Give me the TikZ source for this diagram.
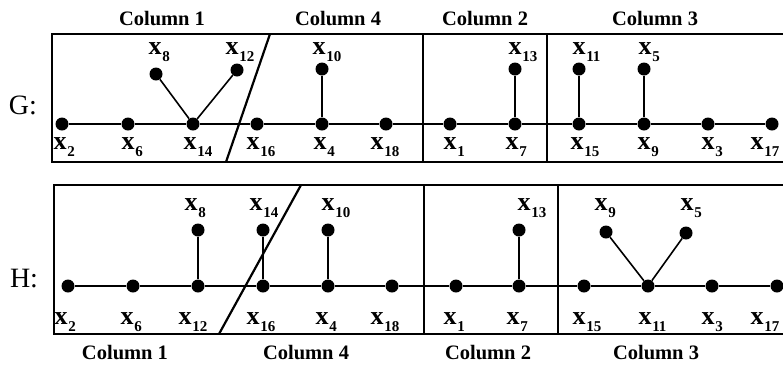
\documentclass[tikz,border=0pt]{standalone}
\usepackage{fontspec}
\setmainfont{Liberation Serif}
\newcommand\xs[1]{x\rlap{\hspace{0.8pt}\smash{\raisebox{-7pt}{\fontsize{15}{15}\selectfont #1}}}}
\begin{document}
\begin{tikzpicture}[x=1pt,y=-1pt,
  dot/.style={circle,fill=black,inner sep=0pt,minimum size=13pt},
  edge/.style={line width=1.6pt},
  frame/.style={line width=2.6pt},
  divider/.style={line width=2.2pt},
  lab/.style={inner sep=0pt,font=\bfseries\fontsize{26}{26}\selectfont},
  col/.style={inner sep=0pt,font=\bfseries\fontsize{20.5}{20.5}\selectfont},
  gname/.style={inner sep=0pt,font=\fontsize{28}{28}\selectfont}]
\useasboundingbox (0,0) rectangle (783,365);
\clip (0,0) rectangle (783,365);
% ---------- G ----------
\draw[frame] (800,34) -- (52,34) -- (52,162) -- (800,162);
\draw[divider] (270,34) -- (226,162);
\draw[divider] (423,34) -- (423,162);
\draw[divider] (547,34) -- (547,162);
\node[gname] (gG) at (23,105) {G:};
\node[col] (gc1) at (162,19) {Column 1};
\node[col] (gc4) at (338,19) {Column 4};
\node[col] (gc2) at (485,19) {Column 2};
\node[col] (gc3) at (655,19) {Column 3};
\foreach \n/\x in {2/62,6/128,14/193,16/257,4/322,18/386,1/450,7/515,15/579,9/644,3/708,17/772}
  \node[dot] (g\n) at (\x,124) {};
\node[dot] (g8) at (156,74) {};
\node[dot] (g12) at (237,70) {};
\node[dot] (g10) at (322,69) {};
\node[dot] (g13) at (515,69) {};
\node[dot] (g11) at (579,69) {};
\node[dot] (g5) at (644,69) {};
\draw[edge] (g2) -- (g6) -- (g14) -- (g16) -- (g4) -- (g18) -- (g1) -- (g7) -- (g15) -- (g9) -- (g3) -- (g17);
\draw[edge] (g8) -- (g14) -- (g12);
\draw[edge] (g10) -- (g4);
\draw[edge] (g13) -- (g7);
\draw[edge] (g11) -- (g15);
\draw[edge] (g5) -- (g9);
\foreach \n/\x in {2/60,6/128,14/190,16/253,4/320,18/377,1/450,7/512,15/577,9/644,3/708,17/757}
  \node[lab] (gl\n) at (\x,144) {\xs{\n}};
\foreach \n/\x in {8/155,12/232,10/319,13/515,11/579,5/645}
  \node[lab] (gl\n) at (\x,49) {\xs{\n}};
% ---------- H ----------
\draw[frame] (800,185) -- (54,185) -- (54,334) -- (800,334);
\draw[divider] (301,185) -- (219,334);
\draw[divider] (424,185) -- (424,334);
\draw[divider] (558,185) -- (558,334);
\node[gname] (hH) at (24,279) {H:};
\node[col] (hc1) at (125,353) {Column 1};
\node[col] (hc4) at (306,353) {Column 4};
\node[col] (hc2) at (488,353) {Column 2};
\node[col] (hc3) at (656,353) {Column 3};
\foreach \n/\x in {2/68,6/133,12/198,16/263,4/328,18/392,1/456,7/519,15/584,11/648,3/712,17/777}
  \node[dot] (h\n) at (\x,286) {};
\node[dot] (h8) at (198,230) {};
\node[dot] (h14) at (263,230) {};
\node[dot] (h10) at (328,230) {};
\node[dot] (h13) at (519,230) {};
\node[dot] (h9) at (606,232) {};
\node[dot] (h5) at (686,233) {};
\draw[edge] (h2) -- (h6) -- (h12) -- (h16) -- (h4) -- (h18) -- (h1) -- (h7) -- (h15) -- (h11) -- (h3) -- (h17);
\draw[edge] (h8) -- (h12);
\draw[edge] (h14) -- (h16);
\draw[edge] (h10) -- (h4);
\draw[edge] (h13) -- (h7);
\draw[edge] (h9) -- (h11) -- (h5);
\foreach \n/\x in {2/61,6/127,12/185,16/253,4/322,18/377,1/450,7/513,15/579,11/645,3/708,17/757}
  \node[lab] (hl\n) at (\x,319) {\xs{\n}};
\foreach \n/\x in {8/191,14/256,10/328,13/524,9/601,5/687}
  \node[lab] (hl\n) at (\x,205) {\xs{\n}};
\end{tikzpicture}
\end{document}
